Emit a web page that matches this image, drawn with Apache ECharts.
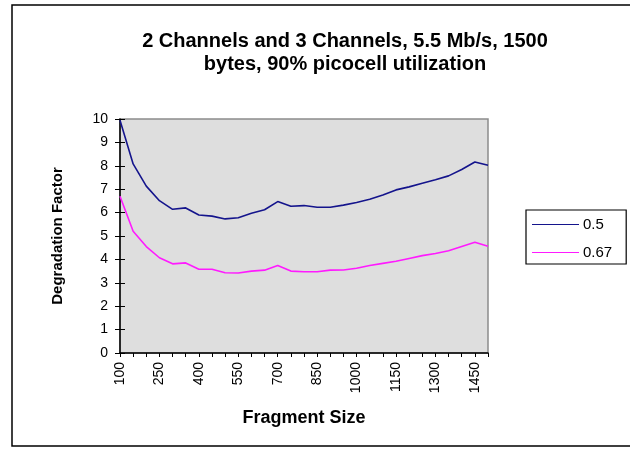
<!DOCTYPE html>
<html>
<head>
<meta charset="utf-8">
<script src="https://cdn.jsdelivr.net/npm/echarts@6/dist/echarts.min.js"></script>
<style>
  html, body { margin: 0; padding: 0; background: #fff; }
  #chart { width: 630px; height: 451px; }
</style>
</head>
<body>
<div id="chart"></div>
<script>
// fragment sizes 100..1500 step 50
const fragmentSizes = ['100', '150', '200', '250', '300', '350', '400', '450', '500', '550',
  '600', '650', '700', '750', '800', '850', '900', '950', '1000', '1050',
  '1100', '1150', '1200', '1250', '1300', '1350', '1400', '1450', '1500'];

const series05 = [9.95, 8.08, 7.13, 6.51, 6.14, 6.2, 5.9, 5.85, 5.73, 5.78,
  5.97, 6.12, 6.47, 6.27, 6.3, 6.23, 6.23, 6.32, 6.43, 6.57,
  6.75, 6.97, 7.1, 7.25, 7.4, 7.57, 7.84, 8.16, 8.02];

const series067 = [6.7, 5.2, 4.55, 4.07, 3.81, 3.85, 3.58, 3.58, 3.43, 3.42,
  3.5, 3.54, 3.74, 3.5, 3.47, 3.47, 3.54, 3.55, 3.62, 3.74,
  3.83, 3.92, 4.04, 4.16, 4.25, 4.37, 4.55, 4.73, 4.56];

const seriesNames = ['0.5', '0.67'];

const font = 'Liberation Sans, Arial, sans-serif';

const chart = echarts.init(document.getElementById('chart'));

const yBase = { type: 'value', min: 0, max: 10, interval: 1 };
const xBase = { type: 'category', data: fragmentSizes, boundaryGap: false };

chart.setOption({
  backgroundColor: '#fff',
  animation: false,
  title: {
    text: '2 Channels and 3 Channels, 5.5 Mb/s, 1500\nbytes, 90% picocell utilization',
    left: 340,
    top: 25,
    textAlign: 'center',
    textStyle: { fontFamily: font, fontSize: 20, fontWeight: 'bold', color: '#000', lineHeight: 23 }
  },
  legend: {
    orient: 'vertical',
    left: 526,
    top: 210,
    padding: [7, 14, 4, 6],
    itemGap: 13,
    itemWidth: 47,
    itemHeight: 14,
    borderColor: '#000',
    borderWidth: 1.2,
    icon: 'path://M0,6.5 H47 V7.5 H0 Z',
    textStyle: { fontFamily: font, fontSize: 15, color: '#000', padding: [0, 0, 0, -1] },
    data: seriesNames
  },
  grid: {
    left: 120, right: 142, top: 119, bottom: 98,
    show: true,
    backgroundColor: '#dedede',
    borderColor: '#8c8c8c',
    borderWidth: 1.5
  },
  xAxis: [
    Object.assign({}, xBase, {
      name: 'Fragment Size',
      nameLocation: 'middle',
      nameGap: 56,
      nameTextStyle: { fontFamily: font, fontSize: 18, fontWeight: 'bold', color: '#000' },
      axisLine: { lineStyle: { color: '#000', width: 1.5 } },
      axisTick: { show: true, interval: 0, length: 4, lineStyle: { color: '#000' } },
      axisLabel: { interval: 2, rotate: 90, margin: 9, fontFamily: font, fontSize: 14, color: '#000' },
      splitLine: { show: false }
    }),
    Object.assign({}, xBase, {
      axisLine: { show: false },
      axisTick: { show: true, inside: true, interval: 0, length: 4, lineStyle: { color: '#000' } },
      axisLabel: { show: false },
      splitLine: { show: false }
    })
  ],
  yAxis: [
    Object.assign({}, yBase, {
      name: 'Degradation Factor',
      nameLocation: 'middle',
      nameGap: 55,
      nameTextStyle: { fontFamily: font, fontSize: 15, fontWeight: 'bold', color: '#000' },
      axisLine: { show: true, lineStyle: { color: '#000', width: 1.5 } },
      axisTick: { show: true, length: 5, lineStyle: { color: '#000' } },
      axisLabel: { margin: 12, fontFamily: font, fontSize: 14, color: '#000' },
      splitLine: { show: false }
    }),
    Object.assign({}, yBase, {
      position: 'left',
      axisLine: { show: false },
      axisTick: { show: true, inside: true, length: 5, lineStyle: { color: '#000' } },
      axisLabel: { show: false },
      splitLine: { show: false }
    })
  ],
  series: [
    {
      name: seriesNames[0],
      type: 'line',
      data: series05,
      symbol: 'none',
      lineStyle: { color: '#14148c', width: 1.6 },
      itemStyle: { color: '#14148c' }
    },
    {
      name: seriesNames[1],
      type: 'line',
      data: series067,
      symbol: 'none',
      lineStyle: { color: '#ff1aff', width: 1.6 },
      itemStyle: { color: '#ff1aff' }
    }
  ],
  graphic: [
    {
      type: 'rect',
      shape: { x: 12, y: 5, width: 640, height: 441 },
      style: { fill: 'none', stroke: '#000', lineWidth: 1.5 },
      silent: true
    }
  ]
});
</script>
</body>
</html>
